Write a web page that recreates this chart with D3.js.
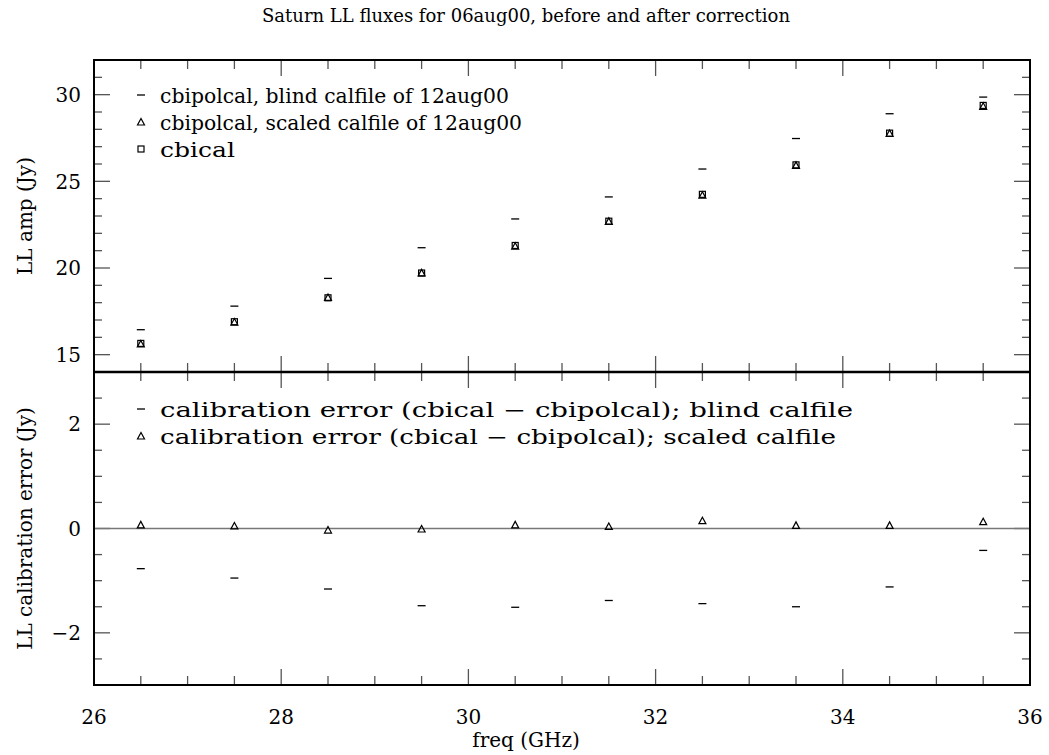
<!DOCTYPE html>
<html>
<head>
<meta charset="utf-8">
<script src="https://cdn.jsdelivr.net/npm/d3@7"></script>
<style>
body { margin:0; background:#fff; }
text { font-family: "DejaVu Serif", "Liberation Serif", serif; fill:#000; }
</style>
</head>
<body>
<div id="chart"></div>
<script>
// frequencies (GHz)
var freqs = [26.5, 27.5, 28.5, 29.5, 30.5, 31.5, 32.5, 33.5, 34.5, 35.5];
// LL amp (Jy)
var blindAmp  = [16.44, 17.80, 19.40, 21.17, 22.83, 24.10, 25.71, 27.47, 28.90, 29.86];
var scaledAmp = [15.62, 16.88, 18.30, 19.72, 21.26, 22.69, 24.20, 25.92, 27.76, 29.33];
var cbicalAmp = [15.65, 16.90, 18.28, 19.71, 21.30, 22.70, 24.25, 25.95, 27.78, 29.38];
// calibration error (Jy)
var blindErr  = [-0.77, -0.95, -1.16, -1.48, -1.51, -1.38, -1.44, -1.50, -1.12, -0.42];
var scaledErr = [0.07, 0.05, -0.03, -0.01, 0.07, 0.04, 0.15, 0.06, 0.06, 0.13];

var xTicks = [26, 28, 30, 32, 34, 36];
var topTicks = [15, 20, 25, 30];
var botTicks = [-2, 0, 2];

var W = 1049, H = 755;
var L = 94, R = 1030, T = 60, M = 372, B = 685;

var svg = d3.select("#chart").append("svg").attr("width", W).attr("height", H);

var x = d3.scaleLinear().domain([26, 36]).range([L, R]);
var yTop = d3.scaleLinear().domain([14, 32]).range([M, T]);
var yBot = d3.scaleLinear().domain([-3, 3]).range([B, M]);

function ticksPanel(y, ymin, ymax, minorStep, majors) {
    var g = svg.append("g");
    var tickCol = "#555";
    // y minor / major ticks, left and right
    var minors = d3.range(Math.ceil(ymin / minorStep) * minorStep, ymax + 1e-9, minorStep);
    minors.forEach(function (v) {
        if (v <= ymin + 1e-9 || v >= ymax - 1e-9) return;
        var isMaj = majors.some(function (m) { return Math.abs(m - v) < 1e-9; });
        var len = isMaj ? 16 : 8;
        g.append("line").attr("x1", L).attr("x2", L + len).attr("y1", y(v)).attr("y2", y(v))
            .attr("stroke", tickCol).attr("stroke-width", 1.3);
        g.append("line").attr("x1", R).attr("x2", R - len).attr("y1", y(v)).attr("y2", y(v))
            .attr("stroke", tickCol).attr("stroke-width", 1.3);
    });
    // x ticks on both edges of the panel
    d3.range(26.5, 36, 0.5).forEach(function (v) {
        var isMaj = Math.abs(v % 2) < 1e-9;
        var len = isMaj ? 16 : 9;
        g.append("line").attr("x1", x(v)).attr("x2", x(v)).attr("y1", y(ymin)).attr("y2", y(ymin) - len)
            .attr("stroke", tickCol).attr("stroke-width", 1.3);
        g.append("line").attr("x1", x(v)).attr("x2", x(v)).attr("y1", y(ymax)).attr("y2", y(ymax) + len)
            .attr("stroke", tickCol).attr("stroke-width", 1.3);
    });
    // y labels
    majors.forEach(function (v) {
        g.append("text").attr("x", 81).attr("y", y(v)).attr("dy", "0.36em")
            .attr("text-anchor", "end").style("font-size", "20px")
            .text(v < 0 ? "\u2212" + Math.abs(v) : v);
    });
}

ticksPanel(yTop, 14, 32, 1, topTicks);
ticksPanel(yBot, -3, 3, 0.5, botTicks);

// zero line
svg.append("line").attr("x1", L).attr("x2", R).attr("y1", yBot(0)).attr("y2", yBot(0))
    .attr("stroke", "#777").attr("stroke-width", 1.5);

// frames
svg.append("rect").attr("x", L).attr("y", T).attr("width", R - L).attr("height", B - T)
    .attr("fill", "none").attr("stroke", "#000").attr("stroke-width", 2);
svg.append("line").attr("x1", L).attr("x2", R).attr("y1", M).attr("y2", M)
    .attr("stroke", "#000").attr("stroke-width", 2.5);

// x tick labels
xTicks.forEach(function (v) {
    svg.append("text").attr("x", x(v)).attr("y", 724).attr("text-anchor", "middle")
        .style("font-size", "20px").text(v);
});

// markers
function dash(g, cx, cy) {
    g.append("line").attr("x1", cx - 4).attr("x2", cx + 4).attr("y1", cy).attr("y2", cy)
        .attr("stroke", "#000").attr("stroke-width", 1.3);
}
function tri(g, cx, cy) {
    g.append("path").attr("d", "M" + (cx - 3.5) + "," + (cy + 3) + "L" + (cx + 3.5) + "," + (cy + 3) + "L" + cx + "," + (cy - 3.5) + "Z")
        .attr("fill", "none").attr("stroke", "#000").attr("stroke-width", 1.2);
}
function sq(g, cx, cy) {
    g.append("rect").attr("x", cx - 3).attr("y", cy - 3).attr("width", 6).attr("height", 6)
        .attr("fill", "none").attr("stroke", "#000").attr("stroke-width", 1.2);
}

var pts = svg.append("g");
freqs.forEach(function (f, i) {
    dash(pts, x(f), yTop(blindAmp[i]));
    tri(pts, x(f), yTop(scaledAmp[i]));
    sq(pts, x(f), yTop(cbicalAmp[i]));
    dash(pts, x(f), yBot(blindErr[i]));
    tri(pts, x(f), yBot(scaledErr[i]));
});

// legends
var leg = svg.append("g");
var topLeg = [
    ["dash", "cbipolcal, blind calfile of 12aug00", 96, 349],
    ["tri", "cbipolcal, scaled calfile of 12aug00", 123, 362],
    ["sq", "cbical", 150, 75]
];
topLeg.forEach(function (d) {
    var fn = d[0] === "dash" ? dash : (d[0] === "tri" ? tri : sq);
    fn(leg, 141, d[2] - 1);
    leg.append("text").attr("x", 160).attr("y", d[2]).attr("dy", "0.36em")
        .style("font-size", "20px").attr("textLength", d[3]).attr("lengthAdjust", "spacingAndGlyphs").text(d[1]);
});
var botLeg = [
    ["dash", "calibration error (cbical \u2212 cbipolcal); blind calfile", 410, 693],
    ["tri", "calibration error (cbical \u2212 cbipolcal); scaled calfile", 437, 676]
];
botLeg.forEach(function (d) {
    var fn = d[0] === "dash" ? dash : tri;
    fn(leg, 141, d[2] - 1);
    leg.append("text").attr("x", 160).attr("y", d[2]).attr("dy", "0.36em")
        .style("font-size", "20px").attr("textLength", d[3]).attr("lengthAdjust", "spacingAndGlyphs").text(d[1]);
});

// title and axis labels
svg.append("text").attr("x", 526).attr("y", 22).attr("text-anchor", "middle")
    .style("font-size", "18px").attr("textLength", 528).attr("lengthAdjust", "spacingAndGlyphs")
    .text("Saturn LL fluxes for 06aug00, before and after correction");
svg.append("text").attr("x", 526).attr("y", 747).attr("text-anchor", "middle")
    .style("font-size", "20px").text("freq (GHz)");
svg.append("text").attr("transform", "translate(32," + yTop(23) + ") rotate(-90)")
    .attr("text-anchor", "middle").style("font-size", "20px").text("LL amp (Jy)");
svg.append("text").attr("transform", "translate(32," + yBot(0) + ") rotate(-90)")
    .attr("text-anchor", "middle").style("font-size", "20px").text("LL calibration error (Jy)");
</script>
</body>
</html>
